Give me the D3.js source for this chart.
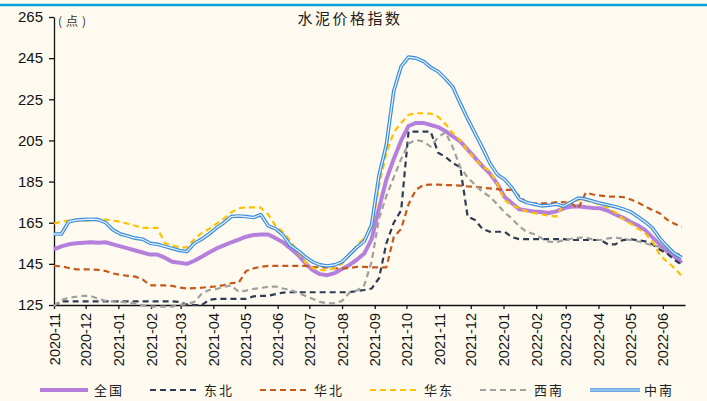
<!DOCTYPE html>
<html>
<head>
<meta charset="utf-8">
<script src="https://cdn.jsdelivr.net/npm/d3@7"></script>
<style>
  body { margin: 0; background: #fffaf0; }
  svg { display: block; }
</style>
</head>
<body>
<script>
// weekly readings, first week starts 2020-11-01
let startDate = new Date(2020, 10, 1);
let endDate = new Date(2022, 5, 22);
let yTicks = [125, 145, 165, 185, 205, 225, 245, 265];
let seriesNames = ["全国", "东北", "华北", "华东", "西南", "中南"];

let national = [152, 153.5, 154.5, 155, 155.3, 155.5, 155.3, 155.5, 154.5, 153.5,
  152.5, 151.5, 150.5, 149.5, 149.5, 148, 146, 145.5, 145, 146.5,
  148.5, 150.5, 152.5, 154, 155.5, 156.8, 158.2, 159, 159.3, 159.3,
  157.5, 155.5, 152.5, 149.5, 145.5, 142, 140, 139.5, 140.5, 142.5,
  144.5, 147, 150, 157, 172, 186, 196, 205, 212, 213.5,
  213.5, 212.5, 211.5, 209.5, 207, 204.5, 200.5, 196.5, 192.5, 189,
  184, 177.5, 174.5, 171.5, 171, 170.5, 170.2, 169.7, 170.5, 172,
  172.8, 173, 172.5, 172.2, 172, 170.8, 169, 167.5, 165.5, 163.8,
  161.5, 158, 154.5, 151, 148.5, 145.5];

let northeast = [124.5, 126.8, 126.8, 126.8, 126.8, 126.8, 126.8, 126.8, 126.8, 126.8,
  126.8, 126.8, 126.8, 126.8, 126.8, 126.8, 126.8, 126.5, 125.2, 125,
  125, 127.5, 128, 128, 128, 128, 128, 129.2, 129.4, 129.5,
  130.3, 131, 131.2, 131.2, 131.2, 131.2, 131.2, 131.2, 131.2, 131.2,
  131.2, 131.8, 132.3, 133, 138, 155, 165, 171, 209.3, 209.3,
  209.3, 209.3, 199, 197, 194, 192, 168, 166.3, 162, 160.6,
  160.6, 160.6, 158, 157, 157, 157, 157, 157, 157, 157,
  156.6, 156.6, 156.6, 156.6, 156.6, 154.5, 154.5, 156.5, 157, 156.5,
  156, 154.5, 152, 150, 147, 144.5];

let north = [144, 143.8, 143, 142.3, 142.3, 142.3, 142.1, 141.5, 140.3, 139.6,
  139.2, 138.8, 137.5, 134.5, 134.5, 134.5, 134.3, 133.5, 133, 133.2,
  133.4, 133.8, 134, 134.7, 135.6, 135.8, 141.5, 142.8, 143.6, 144,
  144, 144, 144, 144, 144, 143.5, 143.3, 143.3, 142.8, 142.8,
  143, 143.5, 143.5, 143.3, 143.3, 143.3, 158, 162, 174, 181,
  183.3, 183.5, 183.5, 183.3, 183.3, 183, 182.7, 182.5, 182, 181.7,
  181.3, 181, 181, 178, 174.8, 174.4, 174.4, 174.4, 175, 175,
  174.5, 172, 179.6, 178.7, 178.2, 177.7, 177.7, 177.5, 176.4, 175,
  173, 171.2, 169.6, 166.5, 164.5, 163];

let east = [164.6, 165.5, 166, 166, 166, 166.2, 166.5, 166.5, 166, 165.5,
  164.5, 163.5, 162.5, 162.5, 162.5, 155, 154, 153, 153, 157,
  160, 162, 164.5, 167, 170, 172, 172.5, 172.5, 172.3, 169,
  163.5, 160.5, 156, 151, 146, 143, 142, 142, 143, 145,
  149, 154, 157.5, 162, 183, 199, 209, 213.5, 217.5, 218.2,
  218.2, 218, 216.5, 213, 208.5, 205, 200, 196, 192.5, 190,
  184, 176, 173.5, 172, 170.5, 169.7, 169, 168.5, 168, 174,
  175.2, 176, 175.8, 175, 173.6, 172.3, 170, 167, 164.7, 162.3,
  160, 156, 149.5, 146, 143, 139];

let southwest = [124.5, 127.5, 128.5, 129, 129.5, 129.3, 128, 127, 126.7, 126.5,
  126.2, 125.8, 124.8, 124.2, 124.2, 124.2, 124.2, 125, 125.5, 126.5,
  130.5, 132.3, 132.8, 133.8, 134.5, 131.5, 132, 132.8, 133.3, 133.8,
  134, 133, 132.3, 131, 129.5, 128, 126.5, 125.8, 125.8, 127,
  131, 132, 134.5, 146, 167, 178, 187, 196, 203.5, 205.2,
  204.5, 202, 206.5, 209, 201.5, 192, 187, 183.5, 180, 177.7,
  174, 170, 167, 163.3, 160.5, 159.5, 157.5, 155.8, 155.5, 156.5,
  157.2, 157.6, 157.8, 156.8, 156.6, 157.4, 157.8, 157.2, 156.6, 156,
  155, 154, 153.3, 152, 150.3, 149.3];

let central = [159.5, 159.5, 165.5, 166.3, 166.5, 166.7, 166.5, 165, 161.5, 159.5,
  158.5, 157.5, 157, 155, 154.5, 153.5, 152.5, 151.5, 151, 155,
  157, 159.5, 162.5, 165, 168, 168.3, 168, 167.5, 169, 163.5,
  162, 159, 154, 151.5, 148.5, 146, 144.5, 144, 144.5, 146,
  149.5, 153, 156, 164, 188, 203, 229, 241, 245.5, 245,
  243.5, 240.5, 238.5, 235, 231, 223, 215.5, 208.5, 201.5, 194,
  188.5, 186, 182, 176.5, 174.8, 174, 173.2, 173.5, 174, 173,
  175, 177, 176.4, 175.4, 174.4, 173.6, 172.8, 171.7, 170.4, 168,
  165.5, 162.5, 157.5, 153.5, 150, 148];

let seriesValues = [national, northeast, north, east, southwest, central];
let colors = ["#b57fdc", "#2e3d52", "#c55a1b", "#ffc000", "#a0a0a0", "#3a8ddd"];

let width = 707;
let height = 401;
let margin = {left: 54, right: 22, top: 17, bottom: 96};

let svg = d3.select("body").append("svg")
    .attr("width", width)
    .attr("height", height)
    .style("background", "#fffaf0");

// top rule
svg.append("line")
    .attr("x1", 0).attr("x2", width)
    .attr("y1", 5).attr("y2", 5)
    .attr("stroke", "#00a3e0")
    .attr("stroke-width", 2.5);

let dates = national.map((_, i) => d3.timeDay.offset(startDate, 7 * i));

let x = d3.scaleTime()
    .domain([startDate, endDate])
    .range([margin.left, width - margin.right]);

let y = d3.scaleLinear()
    .domain([125, 265])
    .range([height - margin.bottom, margin.top]);

let tickFont = "'Liberation Sans', Arial, sans-serif";
let cjkFont = "'Noto Sans CJK SC', sans-serif";

let yAxis = svg.append("g")
    .attr("transform", `translate(${margin.left},0)`)
    .call(d3.axisLeft(y).tickValues(yTicks).tickSize(5).tickSizeOuter(0).tickPadding(6));
yAxis.selectAll("text")
    .style("font-family", tickFont)
    .style("font-size", "15px")
    .attr("fill", "#111");

let xAxis = svg.append("g")
    .attr("transform", `translate(0,${height - margin.bottom})`)
    .call(d3.axisBottom(x)
        .ticks(d3.timeMonth.every(1))
        .tickFormat(d3.timeFormat("%Y-%m"))
        .tickSize(4)
        .tickSizeOuter(0));
xAxis.selectAll("text")
    .style("font-family", tickFont)
    .style("font-size", "14.5px")
    .attr("fill", "#111")
    .attr("transform", "rotate(-90)")
    .attr("text-anchor", "end")
    .attr("x", -8)
    .attr("y", 0)
    .attr("dy", "0.35em");

svg.selectAll(".domain, .tick line").attr("stroke", "#111").attr("stroke-width", 1.3);

svg.append("text")
    .attr("x", 58)
    .attr("y", 26)
    .style("font-family", cjkFont)
    .style("font-size", "12px")
    .style("letter-spacing", "4px")
    .attr("fill", "#333")
    .text("(点)");

svg.append("text")
    .attr("x", 350)
    .attr("y", 24)
    .attr("text-anchor", "middle")
    .style("font-family", cjkFont)
    .style("font-size", "15px")
    .style("letter-spacing", "2.5px")
    .attr("fill", "#222")
    .text("水泥价格指数");

let line = d3.line()
    .x((d, i) => x(dates[i]))
    .y(d => y(d));

let styles = [
    {width: 4, dash: null},
    {width: 2.2, dash: "6,4"},
    {width: 2.2, dash: "6,4"},
    {width: 2.2, dash: "6,4"},
    {width: 2.2, dash: "6,4"},
    {width: 3.6, dash: null}
];

let plot = svg.append("g");

seriesValues.forEach((vals, k) => {
    plot.append("path")
        .datum(vals)
        .attr("d", line)
        .attr("fill", "none")
        .attr("stroke", colors[k])
        .attr("stroke-width", styles[k].width)
        .attr("stroke-dasharray", styles[k].dash)
        .attr("stroke-linejoin", "round");
    if (k === 5) {
        plot.append("path")
            .datum(vals)
            .attr("d", line)
            .attr("fill", "none")
            .attr("stroke", "#e8f1fb")
            .attr("stroke-width", 1.2)
            .attr("stroke-linejoin", "round");
    }
});

// legend
let legend = svg.append("g").attr("transform", "translate(40,390)");

let items = legend.selectAll(".legend-item")
    .data(seriesNames)
    .join("g")
    .attr("class", "legend-item")
    .attr("transform", (d, i) => `translate(${i * 110},0)`);

items.append("line")
    .attr("x1", 0).attr("x2", (d, i) => i === 5 ? 50 : 48)
    .attr("y1", 0).attr("y2", 0)
    .attr("stroke", (d, i) => colors[i])
    .attr("stroke-width", (d, i) => styles[i].width)
    .attr("stroke-dasharray", (d, i) => styles[i].dash);

items.filter((d, i) => i === 5).append("line")
    .attr("x1", 0).attr("x2", 50)
    .attr("y1", 0).attr("y2", 0)
    .attr("stroke", "#e8f1fb")
    .attr("stroke-width", 1.2);

items.append("text")
    .attr("x", 54)
    .attr("y", 5)
    .style("font-family", cjkFont)
    .style("font-size", "13px")
    .style("letter-spacing", "2px")
    .attr("fill", "#222")
    .text(d => d);
</script>
</body>
</html>
